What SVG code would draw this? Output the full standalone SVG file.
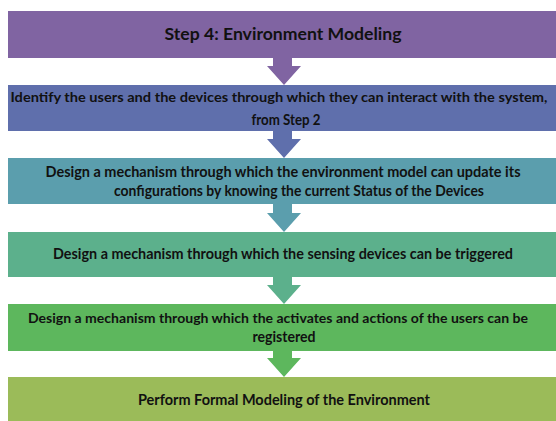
<svg xmlns="http://www.w3.org/2000/svg" width="556" height="421" viewBox="0 0 556 421">
<style>
text{font-family:Lato,"Open Sans","Liberation Sans",sans-serif;font-weight:bold;fill:#111;text-anchor:middle}
.t{font-size:17px}
.b{font-size:15px}
.s{font-size:14px}
</style>
<rect width="556" height="421" fill="#fff"/>
<g id="connectors">
<path d="M273,58H292V66H301L284,85L267,66H273Z" fill="#8064A2"/>
<path d="M273,131H292V139H301L284,158L267,139H273Z" fill="#5F6FAC"/>
<path d="M273,204H292V213H301L284,232L267,213H273Z" fill="#5B9EAD"/>
<path d="M273,277H292V285H301L284,304L267,285H273Z" fill="#5CB08C"/>
<path d="M273,351H292V358H301L284,377L267,358H273Z" fill="#5DB75D"/>
</g>
<g id="n1">
<rect x="8" y="11" width="548" height="47" fill="#8064A2"/>
<text class="t" x="283" y="40" textLength="237" lengthAdjust="spacingAndGlyphs">Step 4:  Environment Modeling</text>
</g>
<g id="n2">
<rect x="8" y="85" width="548" height="46" fill="#5F6FAC"/>
<text class="s" x="279" y="102" textLength="537" lengthAdjust="spacingAndGlyphs">Identify the users and the devices through which they can interact with the system,</text>
<text class="b" x="286" y="125" textLength="69" lengthAdjust="spacingAndGlyphs">from Step 2</text>
</g>
<g id="n3">
<rect x="8" y="158" width="548" height="46" fill="#5B9EAD"/>
<text class="b" x="283" y="177" textLength="475" lengthAdjust="spacingAndGlyphs">Design a mechanism through which the environment model can update its</text>
<text class="b" x="299" y="196" textLength="370" lengthAdjust="spacingAndGlyphs">configurations by knowing the current Status of the Devices</text>
</g>
<g id="n4">
<rect x="8" y="232" width="548" height="45" fill="#5CB08C"/>
<text class="b" x="283" y="259" textLength="460" lengthAdjust="spacingAndGlyphs">Design a mechanism through which the sensing devices can be triggered</text>
</g>
<g id="n5">
<rect x="8" y="304" width="548" height="47" fill="#5DB75D"/>
<text class="s" x="278" y="323" textLength="500" lengthAdjust="spacingAndGlyphs">Design a mechanism through which the activates and actions of the users can be</text>
<text class="b" x="284" y="342" textLength="63" lengthAdjust="spacingAndGlyphs">registered</text>
</g>
<g id="n6">
<rect x="8" y="377" width="548" height="44" fill="#9BBB59"/>
<text class="b" x="284" y="405" textLength="292" lengthAdjust="spacingAndGlyphs">Perform Formal Modeling of the Environment</text>
</g>
</svg>
